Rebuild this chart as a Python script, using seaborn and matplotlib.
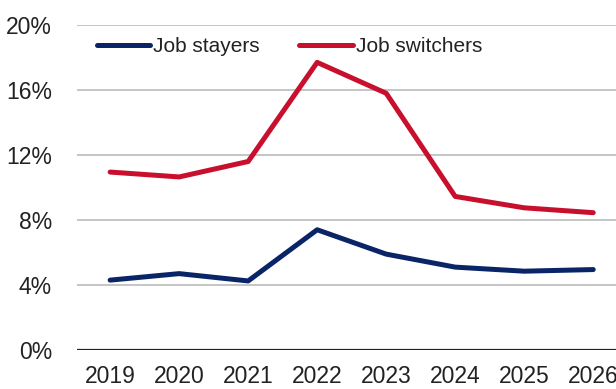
import matplotlib
matplotlib.use("Agg")
import matplotlib.pyplot as plt
import seaborn as sns
import pandas as pd
from matplotlib.ticker import FuncFormatter

years = [2019, 2020, 2021, 2022, 2023, 2024, 2025, 2026]
job_stayers = [4.3, 4.7, 4.25, 7.4, 5.9, 5.1, 4.85, 4.95]
job_switchers = [10.95, 10.65, 11.6, 17.7, 15.8, 9.45, 8.75, 8.45]
series_names = ["Job stayers", "Job switchers"]
colors = ["#0a2468", "#c8102e"]

df = pd.DataFrame({"year": years, series_names[0]: job_stayers, series_names[1]: job_switchers})
long = df.melt(id_vars="year", var_name="series", value_name="growth")

sns.set_theme(style="white")
plt.rcParams["font.family"] = ["Liberation Sans", "DejaVu Sans"]

fig = plt.figure(figsize=(6.16, 3.89), dpi=100)
ax = fig.add_axes([77 / 616, 1 - 350 / 389, (616 - 77) / 616, (350 - 25) / 389])

sns.lineplot(data=long, x="year", y="growth", hue="series", palette=colors,
             linewidth=3.6, ax=ax, legend=True)

ax.set_ylim(0, 20)
ax.set_xlim(2018.52, 2026.33)
ax.set_yticks([0, 4, 8, 12, 16, 20])
ax.yaxis.set_major_formatter(FuncFormatter(lambda v, p: f"{v:.0f}%"))
ax.set_xticks(years)
ax.set_xticklabels([str(y) for y in years])
ax.set_xlabel("")
ax.set_ylabel("")
for v in [4, 8, 12, 16, 20]:
    ax.axhline(v, color="#c0c0c0", linewidth=1.3, zorder=0)
ax.axhline(0, color="#222222", linewidth=1.6, zorder=1)
for s in ax.spines.values():
    s.set_visible(False)
ax.tick_params(axis="both", length=0, labelsize=16.5, colors="#222222")
ax.tick_params(axis="y", pad=18)
ax.tick_params(axis="x", pad=11)

leg = ax.legend(loc="upper left", bbox_to_anchor=(0.037, 0.963), ncol=2, frameon=False,
                fontsize=15, handlelength=2.55, handletextpad=0.15, columnspacing=1.9,
                borderaxespad=0, borderpad=0)
for line in leg.get_lines():
    line.set_linewidth(3.6)
for t in leg.get_texts():
    t.set_color("#222222")

fig.savefig("out.png", dpi=100)
